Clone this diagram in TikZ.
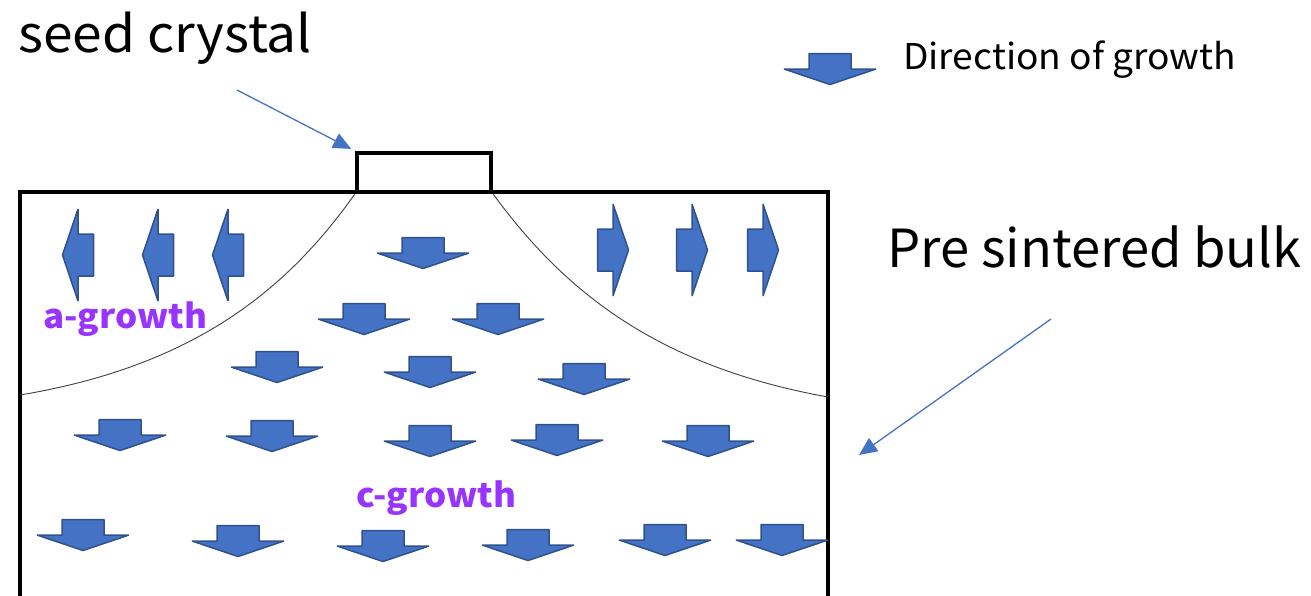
\documentclass[tikz,border=0pt]{standalone}
\usepackage{fontspec}
\setmainfont{Noto Sans CJK JP}
\newfontfamily\widesans[FakeStretch=1.045]{Noto Sans CJK JP}
\usetikzlibrary{arrows.meta}
\definecolor{arrowblue}{HTML}{4472C4}
\definecolor{arrowedge}{HTML}{2F528F}
\definecolor{labelpurple}{HTML}{9933FF}
\tikzset{
  arrowbody/.style={fill=arrowblue, draw=arrowedge, line width=1.5pt, line join=bevel},
  growarrow/.pic={
    \draw[arrowbody] (-21,-15.5) -- (21,-15.5) -- (21,0) -- (46,0)
      -- (0,15.5) -- (-46,0) -- (-21,0) -- cycle;
  },
  outline/.style={draw=black, line width=4.5pt},
  boundary/.style={draw=black!75, line width=0.9pt},
  pointer/.style={draw=arrowblue, line width=1.3pt,
    -{Triangle[length=18pt, width=16pt]}},
  biglabel/.style={inner sep=0pt, anchor=base west, text=black},
  growlabel/.style={inner sep=0pt, anchor=base west, text=labelpurple,
    font=\widesans\bfseries\fontsize{33.5}{38}\selectfont},
}
\begin{document}
\begin{tikzpicture}[x=1pt, y=-1pt]
\useasboundingbox (0,0) rectangle (1311,595);

% pre-sintered bulk (open at the bottom) and seed crystal
\draw[outline, line join=miter] (20,600) -- (20,192) -- (828,192) -- (828,600);
\node[outline, minimum width=134pt, minimum height=39pt, inner sep=0pt]
  (seed) at (424,172.5) {};

% boundaries between the a-growth and c-growth regions
\draw[boundary] (seed.south west) .. controls (290,285) and (200,365) .. (20,395);
\draw[boundary] (seed.south east) .. controls (560,285) and (650,365) .. (828,397);

% a-growth: sideways arrows
\pic[rotate=-90] at (78,255) {growarrow};
\pic[rotate=-90] at (158,255) {growarrow};
\pic[rotate=-90] at (228,255) {growarrow};
\pic[rotate=90] at (613,250) {growarrow};
\pic[rotate=90] at (692,250) {growarrow};
\pic[rotate=90] at (763,250) {growarrow};

% c-growth: downward arrows
\pic at (423,253) {growarrow};
\pic at (364,319) {growarrow};
\pic at (498,319) {growarrow};
\pic at (277,367) {growarrow};
\pic at (430,372) {growarrow};
\pic at (584,379) {growarrow};
\pic at (120,435) {growarrow};
\pic at (272,436) {growarrow};
\pic at (430,441) {growarrow};
\pic at (557,440) {growarrow};
\pic at (708,441) {growarrow};
\pic at (83,535) {growarrow};
\pic at (238,541) {growarrow};
\pic at (383,546) {growarrow};
\pic at (528,545) {growarrow};
\pic at (665,540) {growarrow};
\pic at (782,540) {growarrow};

% region labels
\node[growlabel] (alabel) at (43,328) {a-growth};
\node[growlabel] (clabel) at (356,507) {c-growth};

% legend
\pic at (830,69) {growarrow};
\node[biglabel, font=\widesans\fontsize{35.5}{42}\selectfont] (legend) at (903,69) {Direction of growth};

% captions with pointers
\node[biglabel, font=\widesans\fontsize{51}{60}\selectfont] (seedlabel) at (18,52) {seed crystal};
\node[biglabel, font=\fontsize{52.5}{62}\selectfont] (bulklabel) at (887,267) {Pre sintered bulk};
\coordinate (seedtail) at (237,90);
\coordinate (bulktail) at (1051,319);
\coordinate (bulktip) at (859,455);
\draw[pointer, shorten >=4pt] (seedtail) -- (seed.north west);
\draw[pointer] (bulktail) -- (bulktip);
\end{tikzpicture}
\end{document}
